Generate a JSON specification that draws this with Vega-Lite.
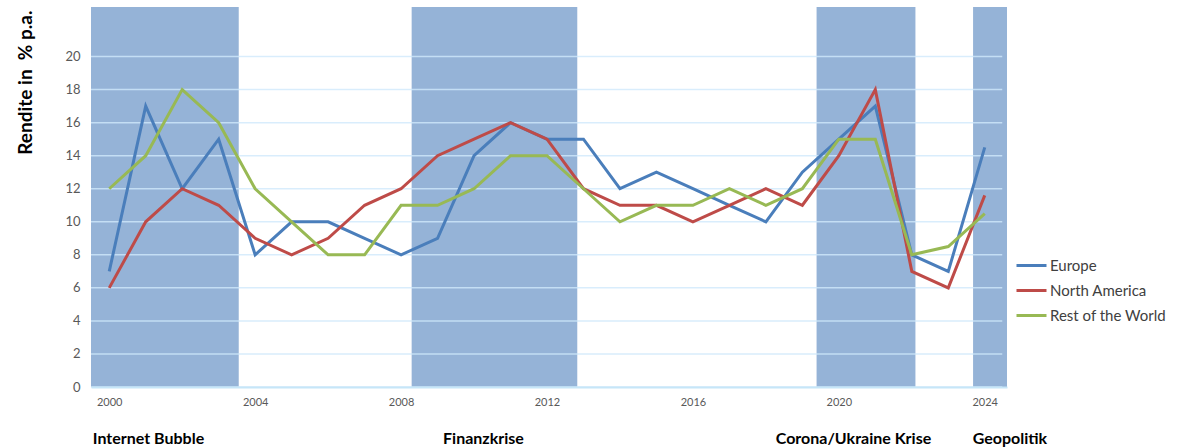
{
  "$schema": "https://vega.github.io/schema/vega-lite/v6.json",
  "width": 916,
  "height": 380,
  "autosize": {"type": "none"},
  "padding": {"left": 91, "top": 7, "right": 175, "bottom": 61},
  "background": "white",
  "config": {
    "view": {"stroke": null},
    "font": "Lato",
    "axisY": {"labelOverlap": false, "tickCount": 11}
  },
  "datasets": {
    "bands": [
      {"start": 1999.5, "end": 2003.55, "label": "Internet Bubble", "labelAt": 1999.55},
      {"start": 2008.29, "end": 2012.83, "label": "Finanzkrise", "labelAt": 2009.15},
      {"start": 2019.39, "end": 2022.1, "label": "Corona/Ukraine  Krise", "labelAt": 2018.27},
      {"start": 2023.68, "end": 2024.61, "label": "Geopolitik", "labelAt": 2023.67}
    ],
    "grid": [
      {"level": 0}, {"level": 2}, {"level": 4}, {"level": 6}, {"level": 8}, {"level": 10},
      {"level": 12}, {"level": 14}, {"level": 16}, {"level": 18}, {"level": 20}
    ],
    "returns": [
      {"year": 2000, "region": "Europe", "value": 7},
      {"year": 2001, "region": "Europe", "value": 17},
      {"year": 2002, "region": "Europe", "value": 12},
      {"year": 2003, "region": "Europe", "value": 15},
      {"year": 2004, "region": "Europe", "value": 8},
      {"year": 2005, "region": "Europe", "value": 10},
      {"year": 2006, "region": "Europe", "value": 10},
      {"year": 2007, "region": "Europe", "value": 9},
      {"year": 2008, "region": "Europe", "value": 8},
      {"year": 2009, "region": "Europe", "value": 9},
      {"year": 2010, "region": "Europe", "value": 14},
      {"year": 2011, "region": "Europe", "value": 16},
      {"year": 2012, "region": "Europe", "value": 15},
      {"year": 2013, "region": "Europe", "value": 15},
      {"year": 2014, "region": "Europe", "value": 12},
      {"year": 2015, "region": "Europe", "value": 13},
      {"year": 2016, "region": "Europe", "value": 12},
      {"year": 2017, "region": "Europe", "value": 11},
      {"year": 2018, "region": "Europe", "value": 10},
      {"year": 2019, "region": "Europe", "value": 13},
      {"year": 2020, "region": "Europe", "value": 15},
      {"year": 2021, "region": "Europe", "value": 17},
      {"year": 2022, "region": "Europe", "value": 8},
      {"year": 2023, "region": "Europe", "value": 7},
      {"year": 2024, "region": "Europe", "value": 14.5},
      {"year": 2000, "region": "North America", "value": 6},
      {"year": 2001, "region": "North America", "value": 10},
      {"year": 2002, "region": "North America", "value": 12},
      {"year": 2003, "region": "North America", "value": 11},
      {"year": 2004, "region": "North America", "value": 9},
      {"year": 2005, "region": "North America", "value": 8},
      {"year": 2006, "region": "North America", "value": 9},
      {"year": 2007, "region": "North America", "value": 11},
      {"year": 2008, "region": "North America", "value": 12},
      {"year": 2009, "region": "North America", "value": 14},
      {"year": 2010, "region": "North America", "value": 15},
      {"year": 2011, "region": "North America", "value": 16},
      {"year": 2012, "region": "North America", "value": 15},
      {"year": 2013, "region": "North America", "value": 12},
      {"year": 2014, "region": "North America", "value": 11},
      {"year": 2015, "region": "North America", "value": 11},
      {"year": 2016, "region": "North America", "value": 10},
      {"year": 2017, "region": "North America", "value": 11},
      {"year": 2018, "region": "North America", "value": 12},
      {"year": 2019, "region": "North America", "value": 11},
      {"year": 2020, "region": "North America", "value": 14},
      {"year": 2021, "region": "North America", "value": 18},
      {"year": 2022, "region": "North America", "value": 7},
      {"year": 2023, "region": "North America", "value": 6},
      {"year": 2024, "region": "North America", "value": 11.6},
      {"year": 2000, "region": "Rest of the World", "value": 12},
      {"year": 2001, "region": "Rest of the World", "value": 14},
      {"year": 2002, "region": "Rest of the World", "value": 18},
      {"year": 2003, "region": "Rest of the World", "value": 16},
      {"year": 2004, "region": "Rest of the World", "value": 12},
      {"year": 2005, "region": "Rest of the World", "value": 10},
      {"year": 2006, "region": "Rest of the World", "value": 8},
      {"year": 2007, "region": "Rest of the World", "value": 8},
      {"year": 2008, "region": "Rest of the World", "value": 11},
      {"year": 2009, "region": "Rest of the World", "value": 11},
      {"year": 2010, "region": "Rest of the World", "value": 12},
      {"year": 2011, "region": "Rest of the World", "value": 14},
      {"year": 2012, "region": "Rest of the World", "value": 14},
      {"year": 2013, "region": "Rest of the World", "value": 12},
      {"year": 2014, "region": "Rest of the World", "value": 10},
      {"year": 2015, "region": "Rest of the World", "value": 11},
      {"year": 2016, "region": "Rest of the World", "value": 11},
      {"year": 2017, "region": "Rest of the World", "value": 12},
      {"year": 2018, "region": "Rest of the World", "value": 11},
      {"year": 2019, "region": "Rest of the World", "value": 12},
      {"year": 2020, "region": "Rest of the World", "value": 15},
      {"year": 2021, "region": "Rest of the World", "value": 15},
      {"year": 2022, "region": "Rest of the World", "value": 8},
      {"year": 2023, "region": "Rest of the World", "value": 8.5},
      {"year": 2024, "region": "Rest of the World", "value": 10.5}
    ]
  },
  "layer": [
    {
      "data": {"name": "bands"},
      "mark": {"type": "rect", "color": "#95b3d7"},
      "encoding": {
        "x": {
          "field": "start",
          "type": "quantitative",
          "scale": {"domain": [1999.5, 2024.61], "nice": false, "zero": false},
          "axis": {
            "values": [2000, 2004, 2008, 2012, 2016, 2020, 2024],
            "format": "d",
            "title": null,
            "grid": false,
            "ticks": false,
            "labelFontSize": 11,
            "labelColor": "#595959",
            "labelPadding": 9,
            "domainColor": "#c6e6f8",
            "domainWidth": 2,
            "zindex": 1
          }
        },
        "x2": {"field": "end"}
      }
    },
    {
      "data": {"name": "grid"},
      "mark": {"type": "rule", "color": "#cfe9fb", "strokeWidth": 1.5, "opacity": 0.8},
      "encoding": {
        "x": {"datum": 1999.5, "type": "quantitative"},
        "x2": {"datum": 2024.48},
        "y": {
          "field": "level",
          "type": "quantitative",
          "scale": {"domain": [0, 23], "nice": false, "zero": true},
          "axis": {
            "values": [0, 2, 4, 6, 8, 10, 12, 14, 16, 18, 20],
            "labelOverlap": false,
            "tickCount": 11,
            "grid": false,
            "ticks": false,
            "domain": false,
            "labelFontSize": 13,
            "labelColor": "#595959",
            "labelPadding": 11,
            "title": "Rendite in\u00a0\u00a0% p.a.",
            "titleFontSize": 19,
            "titleFontWeight": "bold",
            "titleColor": "#000000",
            "titleAngle": -90,
            "titleAlign": "right",
            "titleBaseline": "middle",
            "titleX": -66,
            "titleY": 3
          }
        }
      }
    },
    {
      "mark": {"type": "rule", "color": "#c6e6f8", "strokeWidth": 2},
      "encoding": {
        "x": {"datum": 1999.5, "type": "quantitative"},
        "y": {"datum": 0, "type": "quantitative"},
        "y2": {"datum": 19.7}
      }
    },
    {
      "mark": {"type": "point", "shape": "triangle-up", "filled": true, "color": "#c6e6f8", "size": 70, "opacity": 1},
      "encoding": {
        "x": {"datum": 1999.5, "type": "quantitative"},
        "y": {"datum": 19.8, "type": "quantitative"}
      }
    },
    {
      "mark": {"type": "point", "shape": "triangle-right", "filled": true, "color": "#c6e6f8", "size": 70, "opacity": 1},
      "encoding": {
        "x": {"datum": 2024.4, "type": "quantitative"},
        "y": {"datum": 0, "type": "quantitative"}
      }
    },
    {
      "data": {"name": "returns"},
      "mark": {"type": "line", "strokeWidth": 3},
      "encoding": {
        "x": {"field": "year", "type": "quantitative"},
        "y": {"field": "value", "type": "quantitative"},
        "color": {
          "field": "region",
          "type": "nominal",
          "scale": {
            "domain": ["Europe", "North America", "Rest of the World"],
            "range": ["#4a7ebb", "#be4b48", "#98b954"]
          },
          "legend": {
            "orient": "none",
            "legendX": 924,
            "legendY": 242,
            "title": null,
            "symbolType": "stroke",
            "symbolSize": 900,
            "symbolStrokeWidth": 3,
            "labelFontSize": 15,
            "labelColor": "#404040",
            "labelOffset": 2,
            "rowPadding": 0
          }
        }
      }
    },
    {
      "data": {"name": "bands"},
      "mark": {"type": "text", "align": "left", "baseline": "middle", "fontSize": 16, "fontWeight": "bold", "color": "#000000"},
      "encoding": {
        "x": {"field": "labelAt", "type": "quantitative"},
        "y": {"datum": -3.17, "type": "quantitative"},
        "text": {"field": "label"}
      }
    }
  ]
}
